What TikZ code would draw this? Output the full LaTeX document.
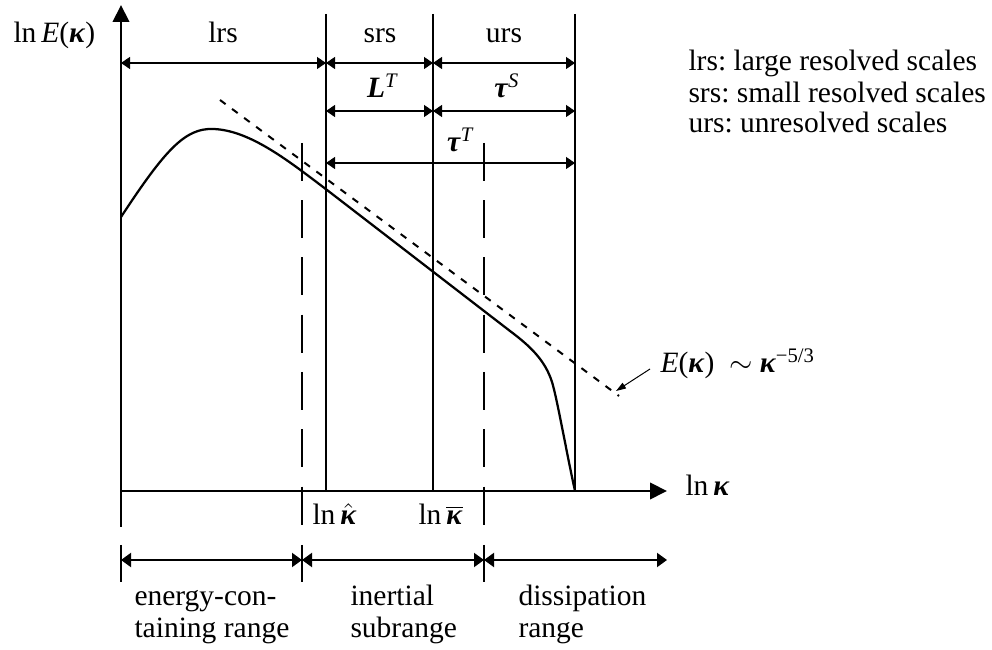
\documentclass[tikz,border=0pt]{standalone}
\usepackage{fontspec}
\setmainfont{Liberation Serif}
\usetikzlibrary{arrows.meta}
\newcommand{\kap}{\textbf{\textit{κ}}}
\frenchspacing

\begin{document}
\begin{tikzpicture}[x=0.4pt, y=-0.4pt, font=\fontsize{11.8}{14}\selectfont,
    axis/.style = {line width=0.8pt, -{Triangle[length=6.8pt,width=6.6pt]}},
    wall/.style = {line width=0.9pt},
    cut/.style = {line width=0.8pt, dash pattern=on 15.2pt off 7.7pt},
    dim/.style = {line width=0.5pt, {Triangle[length=3.6pt,width=4.8pt]}-{Triangle[length=3.6pt,width=4.8pt]}},
    rng/.style = {line width=0.8pt, {Triangle[length=4pt,width=5.6pt]}-{Triangle[length=4pt,width=5.6pt]}},
    spec/.style = {line width=0.9pt},
    law/.style = {line width=0.8pt, dash pattern=on 2.8pt off 3.2pt},
    lead/.style = {line width=0.4pt, -{Triangle[length=4pt,width=2.6pt]}},
    lbl/.style = {inner sep=0pt, anchor=base},
    txt/.style = {inner sep=0pt, anchor=base west}]
        \useasboundingbox (0,0) rectangle (992,650);
        \coordinate (o) at (121,491);
        \coordinate (ytop) at (121,5);
        \coordinate (ybot) at (121,527);
        \coordinate (xend) at (667,491);
        \coordinate (hatT) at (326,14);
        \coordinate (hatB) at (326,491);
        \coordinate (barT) at (433,14);
        \coordinate (barB) at (433,491);
        \coordinate (endT) at (575,14);
        \coordinate (endB) at (575,491);
        \coordinate (c1T) at (302,143);
        \coordinate (c1B) at (302,525);
        \coordinate (c2T) at (484,143);
        \coordinate (c2B) at (484,525);
        \coordinate (r1) at (0,63);
        \coordinate (r2) at (0,111);
        \coordinate (r3) at (0,163);
        \coordinate (e1) at (121,560);
        \coordinate (e2) at (302,560);
        \coordinate (e3) at (484,560);
        \coordinate (e4) at (667,560);
        \coordinate (lawA) at (220,100);
        \coordinate (lawB) at (619,396);
        \coordinate (lawfoot) at (650,369);
        \coordinate (lawtip) at (616,391);
        \draw[axis] (ybot) -- (ytop);
        \draw[axis] (o) -- (xend);
        \draw[wall] (hatT) -- (hatB);
        \draw[wall] (barT) -- (barB);
        \draw[wall] (endT) -- (endB);
        \draw[cut] (c1T) -- (c1B);
        \draw[cut] (c2T) -- (c2B);
        \draw[dim] (o |- r1) -- (hatB |- r1);
        \draw[dim] (hatB |- r1) -- (barB |- r1);
        \draw[dim] (barB |- r1) -- (endB |- r1);
        \draw[dim] (hatB |- r2) -- (barB |- r2);
        \draw[dim] (barB |- r2) -- (endB |- r2);
        \draw[dim] (hatB |- r3) -- (endB |- r3);
        \foreach \x in {121,302,484}
            \draw[wall] (\x,545) -- (\x,582);
        \draw[rng] (e1) -- (e2);
        \draw[rng] (e2) -- (e3);
        \draw[rng] (e3) -- (e4);
        \draw[law] (lawA) -- (lawB);
        \draw[spec] (121,217) .. controls (165,150) and (185,128) .. (213,129)
            .. controls (250,130) and (290,162) .. (327,190) -- (510,331)
            .. controls (530,346) and (545,360) .. (552,382)
            .. controls (557,398) and (567,455) .. (575,491);
        \node[txt] (ylab) at (13,43) {ln\,\textit{E}(\kap)};
        \node[txt] (xlab) at (685,496) {ln\,\kap};
        \node[lbl] (lrs) at (223,43) {lrs};
        \node[lbl] (srs) at (380,43) {srs};
        \node[lbl] (urs) at (504,43) {urs};
        \node[lbl] (LT) at (383,98) {\textbf{\textit{L}}\textsuperscript{\textit{T}}};
        \node[lbl] (tauS) at (507,98) {\textbf{\textit{τ}}\textsuperscript{\textit{S}}};
        \node[lbl] (tauT) at (461,152) {\textbf{\textit{τ}}\textsuperscript{\textit{T}}};
        \node[txt] (khat) at (312,525) {ln\,$\hat{\mbox{\kap}}$};
        \node[txt] (kbar) at (418,525) {ln\,$\overline{\mbox{\kap}}$};
        \node[txt] (lawlbl) at (660,373) {\textit{E}(\kap)\ \ $\sim$ \kap\textsuperscript{−5/3}};
        \draw[lead] (lawfoot) -- (lawtip);
        \node[txt] (leg1) at (688,71) {lrs: large resolved scales};
        \node[txt] (leg2) at (688,103) {srs: small resolved scales};
        \node[txt] (leg3) at (688,133) {urs: unresolved scales};
        \node[txt] (ec1) at (134,606) {energy-con-};
        \node[txt] (ec2) at (134,638) {taining range};
        \node[txt] (is1) at (350,606) {inertial};
        \node[txt] (is2) at (350,638) {subrange};
        \node[txt] (dr1) at (518,606) {dissipation};
        \node[txt] (dr2) at (518,638) {range};
      \end{tikzpicture}
\end{document}
